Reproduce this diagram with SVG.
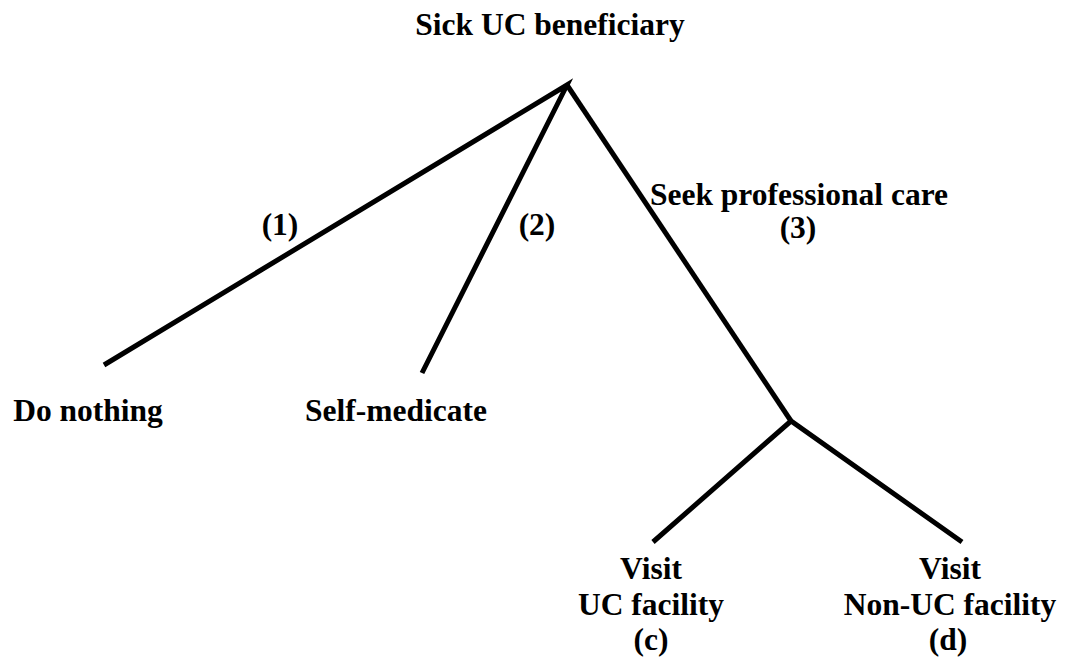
<svg xmlns="http://www.w3.org/2000/svg" width="1065" height="663" viewBox="0 0 1065 663">
<style>
text{font-family:"Liberation Serif","Times New Roman",serif;font-weight:bold;font-size:31.5px;fill:#000;text-anchor:middle}
.edge{fill:none;stroke:#000;stroke-width:5;stroke-linecap:butt;stroke-linejoin:miter}
</style>
<rect width="1065" height="663" fill="#fff"/>
<g id="connectors">
<polyline class="edge" points="104,365 567,85 422,373"/>
<polyline class="edge" points="567,85 791,421"/>
<polyline class="edge" points="653,542 791,421 962,542"/>
<text x="280" y="235">(1)</text>
<text x="537" y="235">(2)</text>
<text x="799" y="205">Seek professional care</text>
<text x="798" y="238">(3)</text>
</g>
<g id="root"><text x="550" y="35">Sick UC beneficiary</text></g>
<g id="do-nothing"><text x="88" y="421">Do nothing</text></g>
<g id="self-medicate"><text x="396" y="421">Self-medicate</text></g>
<g id="uc-facility">
<text x="651" y="579">Visit</text>
<text x="651" y="615">UC facility</text>
<text x="651" y="650">(c)</text>
</g>
<g id="non-uc-facility">
<text x="950" y="579">Visit</text>
<text x="950" y="615">Non-UC facility</text>
<text x="948" y="650">(d)</text>
</g>
</svg>
